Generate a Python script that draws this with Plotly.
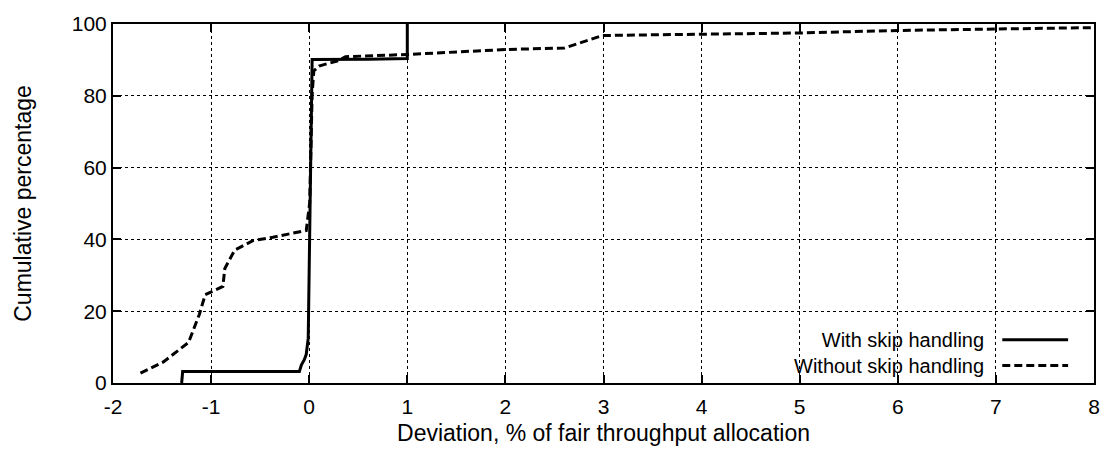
import plotly.graph_objects as go

# CDF of deviation from fair throughput allocation
with_skip_x = [-1.30, -1.29, -0.10, -0.08, -0.05, -0.03, -0.01, 0.0, 0.01, 0.03, 0.6, 1.0, 1.0]
with_skip_y = [0.0, 3.2, 3.2, 5.0, 6.5, 8.0, 12.5, 30.0, 60.0, 90.1, 90.2, 90.4, 100.0]

without_skip_x = [-1.72, -1.49, -1.23, -1.12, -1.06, -0.88, -0.86, -0.76, -0.57, -0.37,
                  -0.03, -0.015, 0.005, 0.03, 0.047, 0.10, 0.30, 0.37, 1.0, 2.0, 2.6,
                  2.99, 4.0, 5.0, 6.0, 7.0, 8.0]
without_skip_y = [2.75, 5.8, 11.3, 19.1, 24.6, 26.9, 31.9, 37.0, 39.7, 40.6,
                  42.5, 46.6, 50.2, 80.5, 86.9, 88.3, 89.8, 90.9, 91.5, 92.9, 93.3,
                  96.8, 97.2, 97.5, 98.2, 98.6, 99.0]

series_names = ["With skip handling", "Without skip handling"]
x_ticks = [-2, -1, 0, 1, 2, 3, 4, 5, 6, 7, 8]
y_ticks = [0, 20, 40, 60, 80, 100]

FONT = "Liberation Sans, Arial, Helvetica, sans-serif"
DASH = "8px,4px"
KEY_SIZE = 20

fig = go.Figure()
fig.add_trace(go.Scatter(x=with_skip_x, y=with_skip_y, mode="lines",
                         line=dict(color="black", width=3), name=series_names[0],
                         showlegend=False))
fig.add_trace(go.Scatter(x=without_skip_x, y=without_skip_y, mode="lines",
                         line=dict(color="black", width=3, dash=DASH), name=series_names[1],
                         showlegend=False))

axis_common = dict(
    showline=True, linecolor="black", linewidth=2, mirror="ticks",
    ticks="inside", ticklen=8, tickwidth=1.5, tickcolor="black",
    showgrid=True, gridcolor="black", gridwidth=1, griddash="dot",
    zeroline=False, tickfont=dict(family=FONT, size=21, color="black"),
)

fig.update_xaxes(range=[-2, 8], tickvals=x_ticks, ticktext=[str(v) for v in x_ticks],
                 ticklabelstandoff=4,
                 title=dict(text="Deviation, % of fair throughput allocation",
                            font=dict(family=FONT, size=23, color="black"), standoff=8),
                 **axis_common)
fig.update_yaxes(range=[0, 100], tickvals=y_ticks, ticktext=[str(v) for v in y_ticks],
                 title=dict(text="Cumulative percentage",
                            font=dict(family=FONT, size=23, color="black"), standoff=34),
                 **axis_common)

# Key box in the lower right corner: text right-aligned, line sample after it
fig.add_shape(type="rect", xref="paper", yref="paper", x0=0.597, x1=0.988, y0=0.032, y1=0.148,
              fillcolor="white", line=dict(width=0), layer="below")
line_gap = KEY_SIZE * 1.3 / 364.0
key_mid = 0.0846
row_y = [key_mid + line_gap / 2, key_mid - line_gap / 2]
fig.add_annotation(x=0.890, y=key_mid, xref="paper", yref="paper",
                   text="<br>".join(series_names), align="right",
                   showarrow=False, xanchor="right", yanchor="middle",
                   font=dict(family=FONT, size=KEY_SIZE, color="black"))
for yp, dash in zip(row_y, [None, DASH]):
    fig.add_shape(type="line", xref="paper", yref="paper", x0=0.9065, x1=0.9736, y0=yp, y1=yp,
                  line=dict(color="black", width=3, dash=dash))

fig.update_layout(
    width=1112, height=456,
    margin=dict(l=113, r=15, t=19, b=73),
    paper_bgcolor="white", plot_bgcolor="white",
    font=dict(family=FONT, color="black"),
)

fig.write_html("out.html")
